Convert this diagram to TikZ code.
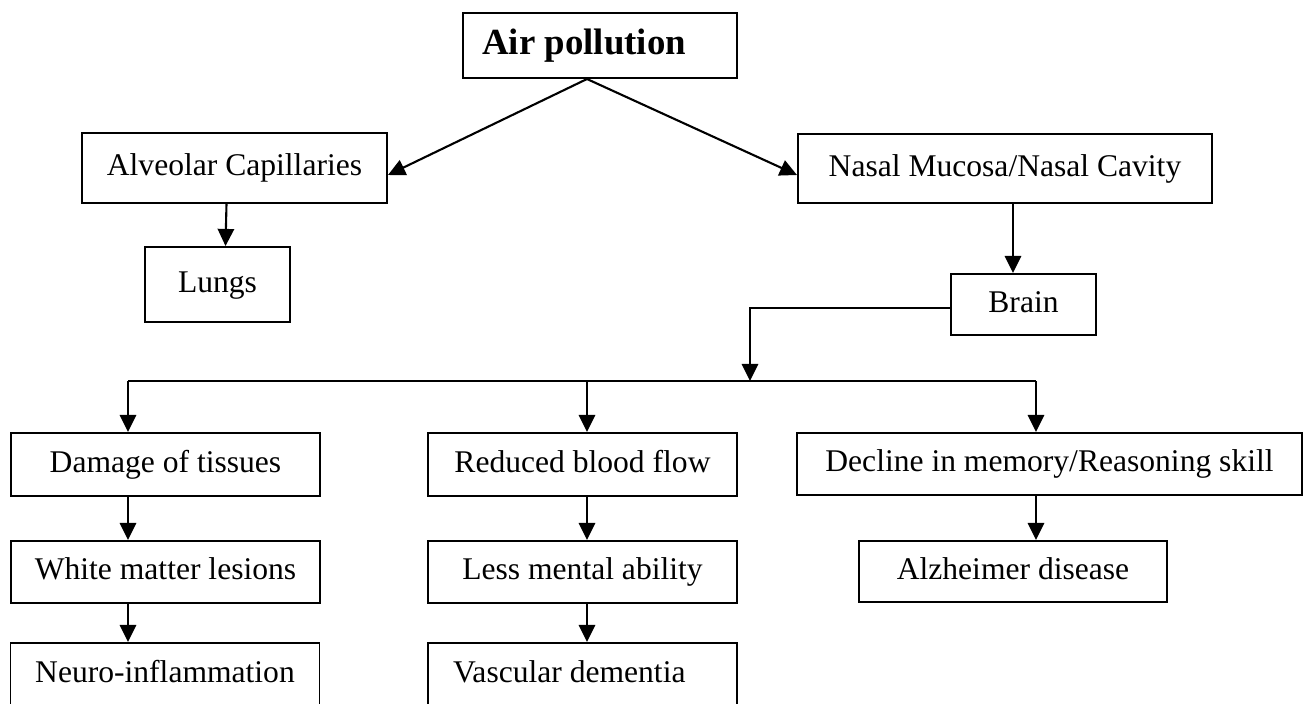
\documentclass[tikz,border=0pt]{standalone}
\usepackage{fontspec}
\setmainfont{Liberation Serif}
\usetikzlibrary{arrows.meta,calc}

\tikzset{
  box/.style={draw, line width=0.75pt, inner sep=0pt, align=center,
    text height=8.5pt, text depth=2.8pt, font=\fontsize{12}{14}\selectfont},
  boxsize/.style 2 args={minimum width=#1*0.38pt, minimum height=#2*0.38pt},
  link/.style={line width=0.8pt},
  arr/.style={link, -{Triangle[length=6.5pt,width=6.2pt]}},
}

\begin{document}
\begin{tikzpicture}[x=0.38pt, y=-0.38pt]
        \clip (0,0) rectangle (1304,703);

        % top: source and the two entry routes
        \node[box, boxsize={274}{65}, text height=10pt, text depth=3pt,
              font=\fontsize{14}{16}\selectfont\bfseries] (air) at (600,45.5) {Air pollution\hspace*{12pt}};
        \node[box, boxsize={305}{70}] (alv) at (234.5,168) {Alveolar Capillaries};
        \node[box, boxsize={145}{75}] (lungs) at (217.5,284.5) {Lungs};
        \node[box, boxsize={414}{69}] (nasal) at (1005,168.5) {Nasal Mucosa/Nasal Cavity};
        \node[box, boxsize={145}{61}] (brain) at (1023.5,304.5) {Brain};

        \draw[arr] ($(air.south)+(-13,0)$) -- ($(alv.east)+(0,7)$);
        \draw[arr] ($(air.south)+(-13,0)$) -- ($(nasal.west)+(0,6.5)$);
        \draw[arr] ($(alv.south)+(-8,0)$) -- ($(lungs.north)+(8,0)$);
        \draw[arr] ($(nasal.south)+(8,0)$) -- ($(brain.north)+(-10.5,0)$);

        % effects on the brain, three columns
        \node[box, boxsize={309}{63}] (damage) at (165.5,464.5) {Damage of tissues};
        \node[box, boxsize={309}{62}] (white) at (165.5,572) {White matter lesions};
        \node[box, boxsize={309}{63}] (neuro) at (165,674.5) {Neuro-inflammation};

        \node[box, boxsize={309}{63}] (reduced) at (582.5,464.5) {Reduced blood flow};
        \node[box, boxsize={309}{62}] (lessm) at (582.5,572) {Less mental ability};
        \node[box, boxsize={309}{63}] (vasc) at (582.5,674.5) {Vascular dementia\hspace*{10pt}};

        \node[box, boxsize={505}{62}] (decline) at (1049.5,464) {Decline in memory/Reasoning skill};
        \node[box, boxsize={308}{61}] (alz) at (1013,571.5) {Alzheimer disease};

        % distribution line
        \coordinate (col1) at (128,381);
        \coordinate (col2) at (587,381);
        \coordinate (col3) at (1036,381);
        \coordinate (split) at (750,381);

        \draw[arr] ($(brain.west)+(0,3.5)$) -| (split);
        \draw[link] (col1) -- (col3);
        \foreach \c/\n in {col1/damage, col2/reduced, col3/decline}
          \draw[arr] (\c) -- (\c |- \n.north);
        \foreach \c/\a/\b in {col1/damage/white, col1/white/neuro, col2/reduced/lessm,
                              col2/lessm/vasc, col3/decline/alz}
          \draw[arr] (\c |- \a.south) -- (\c |- \b.north);
\end{tikzpicture}
\end{document}
